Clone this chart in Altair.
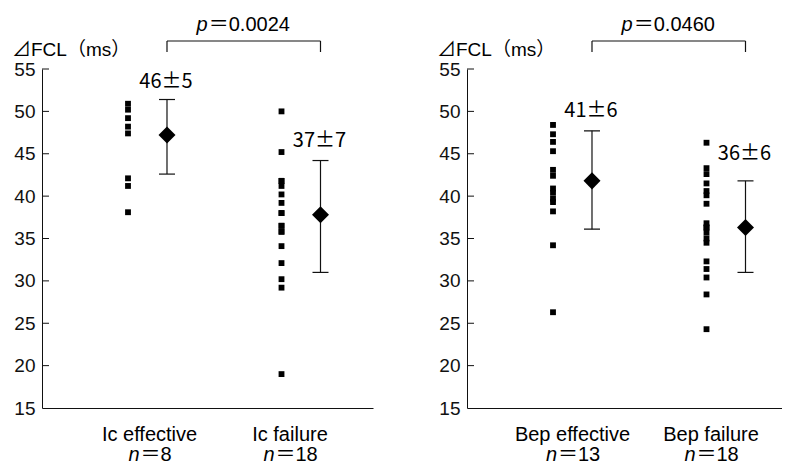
import altair as alt
import pandas as pd

# ---------------- data ----------------
left_groups = ["Ic effective", "Ic failure"]
right_groups = ["Bep effective", "Bep failure"]
left_n = [8, 18]
right_n = [13, 18]

ic_effective = [50.9, 50.2, 49.2, 48.2, 47.4, 42.1, 41.2, 38.1]
ic_failure = [50.0, 45.2, 41.8, 41.8, 41.2, 40.2, 39.2, 38.0, 38.0,
              36.5, 36.5, 35.8, 35.8, 34.1, 32.1, 30.2, 29.2, 19.0]
bep_effective = [48.4, 47.3, 46.4, 45.3, 43.1, 42.4, 40.9, 40.4, 39.7,
                 39.3, 38.2, 34.2, 26.3]
bep_failure = [46.3, 43.3, 42.6, 41.5, 40.6, 40.1, 39.1, 36.8, 36.3,
               36.3, 35.7, 35.0, 34.5, 32.3, 31.4, 30.4, 28.4, 24.3]

left_means = [47.2, 37.8]
left_lows = [42.6, 31.0]
left_highs = [51.4, 44.2]
right_means = [41.8, 36.3]
right_lows = [36.1, 31.0]
right_highs = [47.7, 41.8]

left_mean_labels = ["46±5", "37±7"]
right_mean_labels = ["41±6", "36±6"]
left_p = "0.0024"
right_p = "0.0460"
y_ticks = [15, 20, 25, 30, 35, 40, 45, 50, 55]
y_title = "⊿FCL（ms）"

# ---------------- layout / style ----------------
FONT = "Liberation Sans, Noto Sans CJK JP, sans-serif"
CJK = "Noto Sans CJK JP, Liberation Sans, sans-serif"
INK = "#111111"
H = 339
PX_PER_U = 153.5
OFF = 0.127
CENTER_PX = 105.5


def xdomain(width):
    return [1 - CENTER_PX / PX_PER_U, 1 + (width - CENTER_PX) / PX_PER_U]


def panel(groups, ns, series, means, lows, highs, mean_labels, pval, width,
          label_dx, mean_dy):
    xs = alt.Scale(domain=xdomain(width), nice=False, zero=False)
    ys = alt.Scale(domain=[15, 55], nice=False, zero=False)
    xaxis = alt.Axis(title=None, ticks=False, labels=False, grid=False,
                     domain=True, domainColor=INK, domainWidth=1)
    yaxis = alt.Axis(title=None, values=y_ticks, tickSize=0, labelPadding=7,
                     labelFontSize=19, labelFont=FONT, labelColor=INK,
                     grid=False, domain=True, domainColor=INK, domainWidth=1)

    def X(f):
        return alt.X(f, type="quantitative", scale=xs, axis=xaxis)

    def Y(f):
        return alt.Y(f, type="quantitative", scale=ys, axis=yaxis)

    pts = pd.DataFrame([{"u": i + 1 - OFF, "v": v}
                        for i, vals in enumerate(series) for v in vals])
    stats = pd.DataFrame({"u": [1 + OFF, 2 + OFF], "mean": means,
                          "lo": lows, "hi": highs, "label": mean_labels})

    layers = []
    layers.append(alt.Chart(pts).mark_square(size=34, color="black", opacity=1)
                  .encode(x=X("u"), y=Y("v")))
    layers.append(alt.Chart(stats).mark_rule(color=INK, strokeWidth=1.2)
                  .encode(x=X("u"), y=Y("lo"), y2="hi"))
    for f in ["lo", "hi"]:
        layers.append(alt.Chart(stats).mark_tick(orient="horizontal", size=16,
                                                 thickness=1.2, color=INK, opacity=1)
                      .encode(x=X("u"), y=Y(f)))
    layers.append(alt.Chart(stats).mark_point(shape="diamond", filled=True, size=290,
                                              color="black", opacity=1)
                  .encode(x=X("u"), y=Y("mean")))
    # inward y ticks
    layers.append(alt.Chart(pd.DataFrame({"v": y_ticks[1:]})).mark_rule(color=INK)
                  .encode(y=Y("v"), x=alt.value(0), x2=alt.value(7)))
    # mean labels
    for i in range(2):
        layers.append(alt.Chart(stats.iloc[[i]]).mark_text(
            font=CJK, fontSize=20, color="black", align="center",
            baseline="alphabetic", dx=-1, dy=mean_dy[i])
            .encode(x=X("u"), y=Y("hi"), text="label:N"))
    # y title
    layers.append(alt.Chart(pd.DataFrame({"t": [y_title]})).mark_text(
        font=FONT, fontSize=19, color="black", align="left", baseline="alphabetic")
        .encode(x=alt.value(-30), y=alt.value(-13), text="t:N"))
    # bracket
    layers.append(alt.Chart(pd.DataFrame({"u1": [1 + OFF], "u2": [2 + OFF]}))
                  .mark_rule(color=INK, strokeWidth=1.2)
                  .encode(x=X("u1"), x2="u2", y=alt.value(-28)))
    layers.append(alt.Chart(stats).mark_rule(color=INK, strokeWidth=1.2)
                  .encode(x=X("u"), y=alt.value(-28), y2=alt.value(-17)))
    # p value
    pdf = pd.DataFrame({"u": [1.5 + OFF], "p": ["p"], "rest": ["＝" + pval]})
    layers.append(alt.Chart(pdf).mark_text(font=FONT, fontSize=20, fontStyle="italic",
                                           color="black", align="right",
                                           baseline="alphabetic", dx=-36)
                  .encode(x=X("u"), y=alt.value(-38), text="p:N"))
    layers.append(alt.Chart(pdf).mark_text(font=FONT, fontSize=20, color="black",
                                           align="left", baseline="alphabetic", dx=-35)
                  .encode(x=X("u"), y=alt.value(-38), text="rest:N"))
    # category labels
    for i in range(2):
        cdf = pd.DataFrame({"u": [i + 1], "name": [groups[i]], "n": ["n"],
                            "eq": ["＝" + str(ns[i])]})
        layers.append(alt.Chart(cdf).mark_text(font=FONT, fontSize=20, color="black",
                                               align="center", baseline="alphabetic",
                                               dx=label_dx[i])
                      .encode(x=X("u"), y=alt.value(372), text="name:N"))
        w = 11 + 20 + 11 * len(str(ns[i]))
        split = label_dx[i] - w / 2 + 11
        layers.append(alt.Chart(cdf).mark_text(font=FONT, fontSize=20, fontStyle="italic",
                                               color="black", align="right",
                                               baseline="alphabetic", dx=split)
                      .encode(x=X("u"), y=alt.value(392), text="n:N"))
        layers.append(alt.Chart(cdf).mark_text(font=FONT, fontSize=20, color="black",
                                               align="left", baseline="alphabetic",
                                               dx=split + 1)
                      .encode(x=X("u"), y=alt.value(392), text="eq:N"))
    return alt.layer(*layers).properties(width=width, height=H)


left = panel(left_groups, left_n, [ic_effective, ic_failure], left_means, left_lows,
             left_highs, left_mean_labels, left_p, 331, [2, -11], [-12, -14])
right = panel(right_groups, right_n, [bep_effective, bep_failure], right_means,
              right_lows, right_highs, right_mean_labels, right_p, 315, [0, -15],
              [-14, -21])

chart = alt.hconcat(left, right, spacing=94, bounds="flush").configure_view(
    stroke=None).properties(padding={"left": 4, "top": 7, "right": 0, "bottom": 0},
                            background="white")

chart.save("out.html", embed_options={"renderer": "svg", "actions": False})
